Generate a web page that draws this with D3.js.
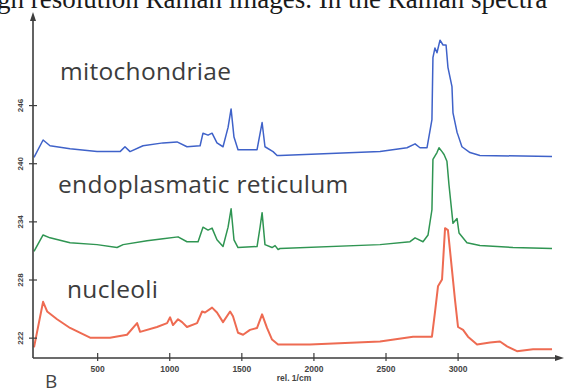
<!DOCTYPE html>
<html>
<head>
<meta charset="utf-8">
<script src="https://cdn.jsdelivr.net/npm/d3@7"></script>
<style>
  html, body { margin: 0; padding: 0; background: #fff; overflow: hidden; }
  svg { display: block; }
</style>
</head>
<body>
<div id="chart"></div>
<script>
// spectra: [wavenumber (rel. 1/cm), intensity]
const mitochondriae = [
  [62, 240.6], [125, 242.4], [173, 241.8], [312, 241.5], [499, 241.2], [659, 241.2],
  [693, 241.7], [728, 241.2], [818, 241.8], [957, 242.1], [1054, 242.2], [1123, 241.7],
  [1214, 241.8], [1234, 243.1], [1269, 242.9], [1297, 243.1], [1331, 242.1], [1373, 241.7],
  [1408, 243.7], [1429, 245.6], [1449, 242.7], [1477, 241.4], [1609, 241.4], [1644, 244.2],
  [1664, 241.7], [1720, 241.2], [1748, 240.8], [1768, 240.8], [2462, 241.2], [2649, 241.6],
  [2705, 242.0], [2739, 241.6], [2788, 241.6], [2822, 244.5], [2829, 250.9], [2843, 251.9],
  [2857, 251.4], [2878, 252.7], [2899, 252.2], [2920, 252.2], [2933, 249.9], [2961, 247.9],
  [2968, 245.2], [2996, 243.2], [3003, 242.9], [3030, 241.7], [3086, 241.1], [3155, 240.8],
  [3655, 240.7]
];

const reticulum = [
  [62, 230.9], [125, 232.6], [173, 232.3], [312, 231.8], [499, 231.6], [638, 231.3],
  [680, 231.6], [846, 232.0], [957, 232.2], [1061, 232.4], [1123, 231.9], [1200, 231.9],
  [1234, 233.4], [1269, 233.1], [1297, 233.3], [1331, 232.1], [1373, 231.4], [1408, 233.4],
  [1429, 235.3], [1449, 232.1], [1477, 231.3], [1609, 231.4], [1630, 233.4], [1644, 234.9],
  [1664, 231.6], [1713, 231.3], [1734, 231.5], [1755, 231.1], [1768, 231.2], [2462, 231.6],
  [2670, 231.9], [2705, 232.3], [2760, 231.9], [2795, 232.6], [2822, 235.2], [2829, 240.4],
  [2857, 241.1], [2871, 241.6], [2892, 241.2], [2906, 240.9], [2926, 240.2], [2940, 237.8],
  [2968, 233.8], [2996, 234.3], [3010, 232.8], [3065, 231.8], [3155, 231.5], [3384, 231.3],
  [3655, 231.2]
];

const nucleoli = [
  [62, 221.0], [125, 225.7], [153, 224.7], [222, 223.9], [312, 223.0], [451, 222.0],
  [589, 222.0], [707, 222.3], [777, 223.5], [798, 222.6], [915, 223.1], [985, 223.5],
  [1006, 224.1], [1026, 223.3], [1061, 223.9], [1089, 223.6], [1123, 223.1], [1193, 223.5],
  [1228, 224.7], [1248, 224.6], [1297, 225.1], [1331, 224.6], [1373, 223.6], [1422, 224.7],
  [1442, 224.2], [1477, 222.5], [1512, 222.3], [1560, 222.8], [1609, 223.0], [1644, 224.4],
  [1678, 223.0], [1713, 221.8], [1755, 221.3], [1976, 221.3], [2462, 221.6], [2691, 222.1],
  [2822, 222.1], [2843, 224.6], [2864, 227.3], [2892, 228.0], [2913, 233.3], [2933, 233.1],
  [2961, 229.0], [2982, 225.9], [3003, 223.1], [3038, 222.8], [3072, 222.1], [3135, 221.3],
  [3225, 221.5], [3294, 221.6], [3343, 221.1], [3412, 220.6], [3523, 220.8], [3655, 220.8]
];

const series = [
  { name: 'mitochondriae', values: mitochondriae, color: '#3f62c9', label: [60, 80] },
  { name: 'endoplasmatic reticulum', values: reticulum, color: '#2f9552', label: [58, 193] },
  { name: 'nucleoli', values: nucleoli, color: '#ee6b52', label: [67, 298] }
];

const xTicks = [500, 1000, 1500, 2000, 2500, 3000];
const yTicks = [222, 228, 234, 240, 246];
const xTitle = 'rel. 1/cm';
const caption = 'gh resolution Raman images. In the Raman spectra';
const panelLetter = 'B';

const width = 567;
const height = 391;
const axisColor = '#3d3d3d';

const svg = d3.select('#chart').append('svg')
  .attr('width', width)
  .attr('height', height)
  .attr('viewBox', `0 0 ${width} ${height}`);

const x = d3.scaleLinear().domain([55, 3738]).range([33, 564]);
const y = d3.scaleLinear().domain([219.9, 255.4]).range([358, 14]);

// running text of the page above the figure (cut off at the top, as in the scan)
svg.append('text')
  .attr('x', -3)
  .attr('y', 8)
  .attr('font-family', '"Liberation Serif", "DejaVu Serif", serif')
  .attr('font-size', 27)
  .attr('fill', '#1a1a1a')
  .text(caption);

// spectra
const line = d3.line()
  .x(d => x(d[0]))
  .y(d => y(d[1]));

svg.append('g')
  .selectAll('path')
  .data(series)
  .join('path')
  .attr('fill', 'none')
  .attr('stroke', d => d.color)
  .attr('stroke-width', d => d.name === 'nucleoli' ? 2 : 1.5)
  .attr('stroke-linejoin', 'round')
  .attr('d', d => line(d.values));

svg.append('g')
  .selectAll('text')
  .data(series)
  .join('text')
  .attr('x', d => d.label[0])
  .attr('y', d => d.label[1])
  .attr('font-family', '"Open Sans", sans-serif')
  .attr('font-size', 24.5)
  .attr('letter-spacing', 0.3)
  .attr('fill', '#3c3c3c')
  .text(d => d.name);

// axes
const xAxis = svg.append('g')
  .attr('transform', `translate(0,${y.range()[0]})`)
  .call(d3.axisBottom(x).tickValues(xTicks).tickFormat(d3.format('d')).tickSize(0).tickPadding(8));

xAxis.select('.domain').remove();
xAxis.selectAll('.tick line').remove();
xAxis.selectAll('.tick').append('line')
  .attr('y1', -5).attr('y2', 3)
  .attr('stroke', axisColor).attr('stroke-width', 1.2);
xAxis.selectAll('.tick text')
  .attr('font-family', '"Liberation Sans", Arial, sans-serif')
  .attr('font-size', 8.5)
  .attr('font-weight', 'bold')
  .attr('fill', '#444');

const yAxis = svg.append('g')
  .attr('transform', `translate(${x.range()[0]},0)`)
  .call(d3.axisLeft(y).tickValues(yTicks).tickSize(0));

yAxis.select('.domain').remove();
yAxis.selectAll('.tick line').remove();
yAxis.selectAll('.tick').append('line')
  .attr('x1', -4).attr('x2', 4)
  .attr('stroke', axisColor).attr('stroke-width', 1.2);
yAxis.selectAll('.tick text')
  .attr('transform', 'translate(-13,0) rotate(-90)')
  .attr('x', 0)
  .attr('dy', '0.35em')
  .attr('text-anchor', 'middle')
  .attr('font-family', '"Liberation Sans", Arial, sans-serif')
  .attr('font-size', 8)
  .attr('font-weight', 'bold')
  .attr('fill', '#444');

// axis lines with arrow heads
const x0 = x.range()[0];
const y0 = y.range()[0];
svg.append('path')
  .attr('d', `M${x0},${y0}H${x.range()[1] - 6}M${x0},${y0}V${y.range()[1] + 4}`)
  .attr('fill', 'none')
  .attr('stroke', axisColor)
  .attr('stroke-width', 1.6);

svg.append('path')
  .attr('d', `M${x.range()[1]},${y0}l-9,-3v6z`)
  .attr('fill', axisColor);
svg.append('path')
  .attr('d', `M${x0},${y.range()[1] - 2}l-3,9h6z`)
  .attr('fill', axisColor);

svg.append('text')
  .attr('x', 294)
  .attr('y', 381)
  .attr('text-anchor', 'middle')
  .attr('font-family', '"Liberation Sans", Arial, sans-serif')
  .attr('font-size', 8.5)
  .attr('font-weight', 'bold')
  .attr('fill', '#444')
  .text(xTitle);

svg.append('text')
  .attr('x', 45)
  .attr('y', 388)
  .attr('font-family', '"Open Sans", sans-serif')
  .attr('font-size', 19)
  .attr('fill', '#444')
  .text(panelLetter);
</script>
</body>
</html>
